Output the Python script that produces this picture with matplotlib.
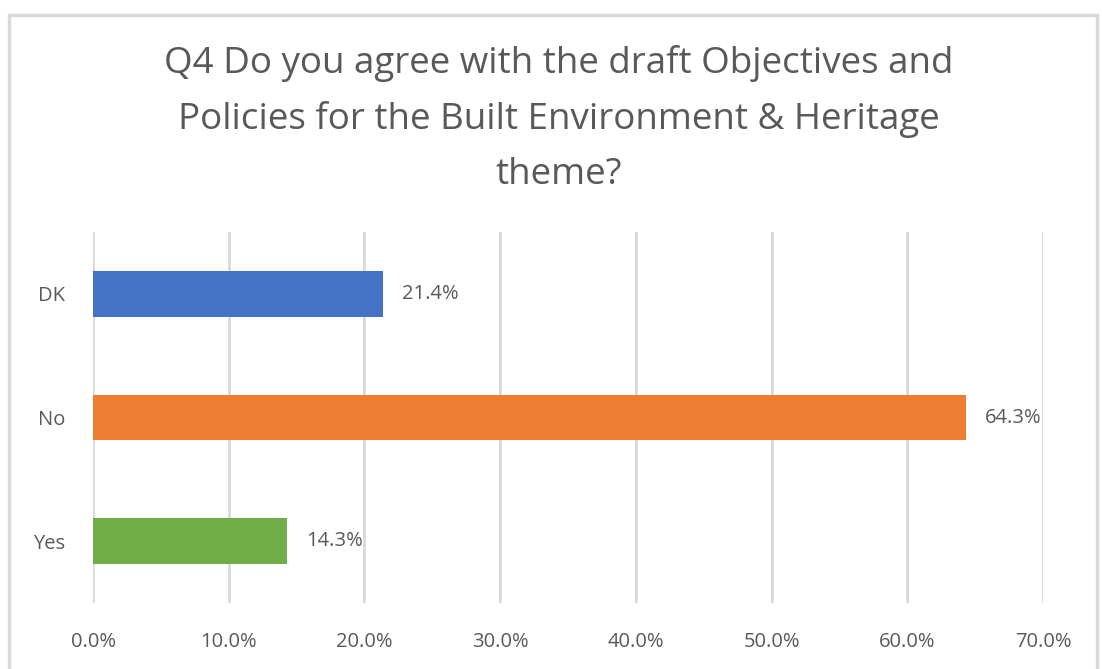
import matplotlib.pyplot as plt
from matplotlib.patches import Rectangle

categories = ["Yes", "No", "DK"]
shares = [14.3, 64.3, 21.4]
colours = ["#70AD47", "#ED7D31", "#4472C4"]
xticks = [0, 10, 20, 30, 40, 50, 60, 70]

plt.rcParams['font.family'] = ['Open Sans', 'DejaVu Sans']

fig = plt.figure(figsize=(11.02, 6.69), dpi=100)

# light grey chart frame
fig.patches.append(Rectangle((9 / 1102, -0.1), 1088 / 1102, 1.1 - 15 / 669,
                             transform=fig.transFigure, fill=False,
                             edgecolor="#d9d9d9", linewidth=2.5))

ax = fig.add_axes([93 / 1102, 66 / 669, 950 / 1102, 371 / 669])
ax.barh(range(len(categories)), shares, height=0.37, color=colours, zorder=3)

for i, v in enumerate(shares):
    ax.text(v + 1.4, i, f"{v:.1f}%", va="center", ha="left",
            fontsize=14.5, color="#595959", zorder=4)

ax.set_xlim(0, 70)
ax.set_ylim(-0.5, 2.5)
ax.set_xticks(xticks)
ax.set_xticklabels([f"{t:.1f}%" for t in xticks])
ax.set_yticks(range(len(categories)))
ax.set_yticklabels(categories)
ax.tick_params(length=0, labelsize=14.5, colors="#595959")
ax.tick_params(axis="x", pad=21)
ax.tick_params(axis="y", pad=20)
ax.grid(axis="x", color="#d9d9d9", linewidth=2, zorder=0)
for s in ax.spines.values():
    s.set_visible(False)

fig.text(0.507, 1 - 119 / 669, "Q4 Do you agree with the draft Objectives and\n"
         "Policies for the Built Environment & Heritage\ntheme?",
         ha="center", va="center", fontsize=26.5, color="#595959",
         linespacing=1.68)

fig.savefig("out.png", dpi=100)
